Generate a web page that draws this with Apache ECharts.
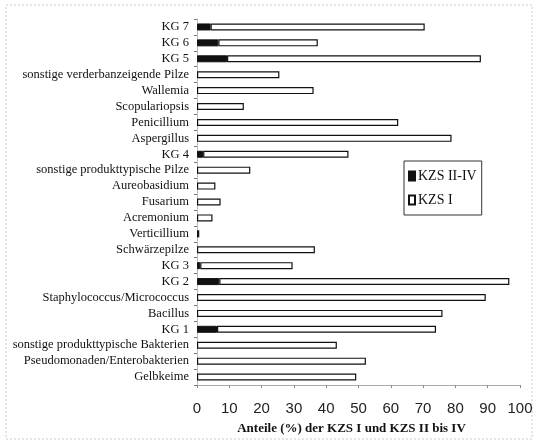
<!DOCTYPE html>
<html><head><meta charset="utf-8">
<script src="https://cdn.jsdelivr.net/npm/echarts@6/dist/echarts.min.js"></script>
<style>html,body{margin:0;padding:0;background:#fff}#c{width:537px;height:443px}</style>
</head><body><div id="c"></div>
<script>
var categories = ["KG 7","KG 6","KG 5","sonstige verderbanzeigende Pilze","Wallemia","Scopulariopsis","Penicillium","Aspergillus","KG 4","sonstige produkttypische Pilze","Aureobasidium","Fusarium","Acremonium","Verticillium","Schwärzepilze","KG 3","KG 2","Staphylococcus/Micrococcus","Bacillus","KG 1","sonstige produkttypische Bakterien","Pseudomonaden/Enterobakterien","Gelbkeime"];
var kzs2to4 = [4.2, 6.6, 9.3, null, null, null, null, null, 1.9, null, null, null, null, null, null, 1.0, 6.9, null, null, 6.2, null, null, null];
var kzs1 = [66.3, 30.8, 78.6, 25.5, 36.1, 14.5, 62.3, 78.8, 45.0, 16.5, 5.7, 7.3, 4.8, 0.7, 36.5, 28.6, 89.8, 89.4, 76.0, 67.8, 43.3, 52.3, 49.3];
var xTicks = [0,10,20,30,40,50,60,70,80,90,100];

var chart = echarts.init(document.getElementById('c'), null, {renderer:'canvas'});
var serif = '"Liberation Serif","DejaVu Serif",serif';
chart.setOption({
  animation:false,
  backgroundColor:'#fff',
  graphic:[{type:'rect',shape:{x:6,y:5,width:526,height:434},style:{fill:'none',stroke:'#c8c8c8',lineWidth:1,lineDash:[2,2]},silent:true}],
  grid:{left:197,right:17,top:19,bottom:58},
  legend:{
    orient:'vertical',left:404,top:161,
    data:[{name:'KZS II-IV'},{name:'KZS I'}],
    icon:'rect',itemWidth:6,itemHeight:9,itemGap:10,
    borderColor:'#333',borderWidth:1,padding:[8,5,8,4],
    textStyle:{fontFamily:serif,fontSize:14,color:'#111',padding:[0,0,0,-2]}
  },
  xAxis:{
    type:'value',min:0,max:100,interval:10,
    axisLine:{show:true,lineStyle:{color:'#aaa',width:1}},
    axisTick:{show:true,length:3,lineStyle:{color:'#888'}},
    splitLine:{show:false},
    axisLabel:{margin:16,fontFamily:'"Liberation Sans Narrow","Liberation Sans",sans-serif',fontSize:15,color:'#222',
      formatter:function(v){return xTicks.indexOf(v)>=0?String(v):'';}},
    name:'Anteile (%) der KZS I und KZS II bis IV',nameLocation:'middle',nameGap:37,
    nameTextStyle:{fontFamily:serif,fontSize:13,fontWeight:'bold',color:'#111',padding:[0,14,0,0]}
  },
  yAxis:{
    type:'category',data:categories,inverse:true,
    axisLine:{show:true,lineStyle:{color:'#bbb'}},
    axisTick:{show:true,length:3,lineStyle:{color:'#777'}},
    axisLabel:{margin:8,interval:0,fontFamily:serif,fontSize:12.5,color:'#111'}
  },
  series:[
    {name:'KZS II-IV',type:'bar',stack:'a',data:kzs2to4,barWidth:7,
     itemStyle:{color:'#111',borderColor:'#111',borderWidth:1}},
    {name:'KZS I',type:'bar',stack:'a',data:kzs1,barWidth:7,
     itemStyle:{color:'#fff',borderColor:'#111',borderWidth:1.2}}
  ]
});
</script></body></html>
